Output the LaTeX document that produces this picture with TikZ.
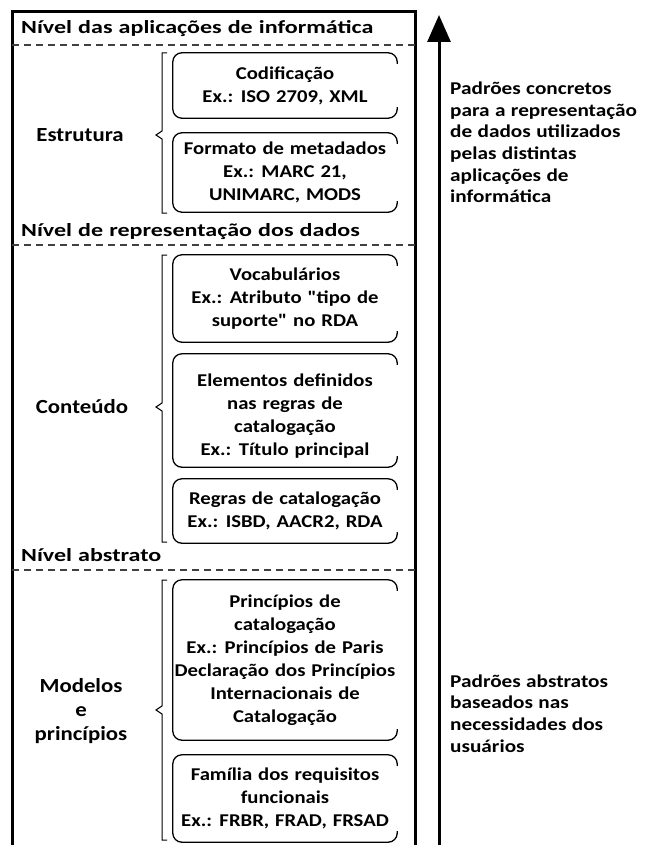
\documentclass[tikz,border=0pt]{standalone}
\usepackage{fontspec}
\setmainfont{Carlito}
\newfontfamily\lvlfont{Carlito}[FakeStretch=1.3]
\newfontfamily\catfont{Carlito}[FakeStretch=1.14]
\newfontfamily\boxfont{Carlito}[FakeStretch=1.15]
\newfontfamily\sidefont{Carlito}[FakeStretch=1.18]
\newcommand\wsp[1]{\spaceskip #1\relax}
\usetikzlibrary{arrows.meta}
\tikzset{
  frame/.style={line width=3pt},
  sep/.style={line width=1.3pt, dash pattern=on 7pt off 5pt, black!75},
  lvl/.style={anchor=west, inner sep=0pt, font=\lvlfont\bfseries\fontsize{18.5}{22}\selectfont\wsp{0.33em}},
  cat/.style={align=center, inner sep=0pt, font=\catfont\bfseries\fontsize{20}{24}\selectfont},
  boxtext/.style={align=center, inner sep=0pt, minimum width=224pt, font=\boxfont\bfseries\fontsize{18}{23}\selectfont\wsp{0.33em}},
  side/.style={anchor=west, align=left, inner sep=0pt, font=\sidefont\bfseries\fontsize{18}{21.7}\selectfont\wsp{0.3em}},
  openline/.style={line width=1.3pt, rounded corners=9pt},
  bracket/.style={line width=1pt},
}
\newcommand\openbox[1]{\draw[openline] ([yshift=-11pt]#1.north east) -- (#1.north east) -- (#1.north west) -- (#1.south west) -- (#1.south east) -- ([yshift=11pt]#1.south east);}
\begin{document}
\begin{tikzpicture}[x=1pt,y=-1pt]
\useasboundingbox (0,0) rectangle (645,845);
% frame
\draw[frame] (12,845) -- (12,12) -- (415,12) -- (415,845);
% arrow
\coordinate (abot) at (439,845);
\coordinate (atop) at (439,15);
\draw[line width=3pt, -{Triangle[width=23pt,length=27pt]}] (abot) -- (atop);
% separators
\draw[sep] (12,45) -- (415,45);
\draw[sep] (12,245) -- (415,245);
\draw[sep] (12,570) -- (415,570);
% level labels
\node[lvl] (l1) at (21,29) {Nível das aplicações de informática};
\node[lvl] (l2) at (21,232) {Nível de representação dos dados};
\node[lvl] (l3) at (21,555) {Nível abstrato};
% boxes
\node[boxtext, minimum height=65pt] (b1) at (285,85.5) {Codificação\\Ex.: ISO 2709, XML};
\node[boxtext, minimum height=79pt] (b2) at (285,172.5) {Formato de metadados\\Ex.: MARC 21,\\UNIMARC, MODS};
\node[boxtext, minimum height=87pt] (b3) at (285,298.5) {Vocabulários\\Ex.: Atributo {\char34}tipo de\\suporte{\char34} no RDA};
\node[boxtext, minimum height=113pt] (b4) at (285,410.5) {};
\node[boxtext] (t4) at (285,416) {Elementos definidos\\nas regras de\\catalogação\\Ex.: Título principal};
\node[boxtext, minimum height=64pt] (b5) at (285,511) {Regras de catalogação\\Ex.: ISBD, AACR2, RDA};
\node[boxtext, minimum height=160pt] (b6) at (285,660) {Princípios de\\catalogação\\Ex.: Princípios de Paris\\Declaração dos Princípios\\Internacionais de\\Catalogação};
\node[boxtext, minimum height=87pt] (b7) at (285,798.5) {Família dos requisitos\\funcionais\\Ex.: FRBR, FRAD, FRSAD};
\foreach \b in {b1,b2,b3,b4,b5,b6,b7} {\openbox{\b}}
% brackets
\draw[bracket] (167,53) -- (162,53) -- (162,131) -- (156,135) -- (162,139) -- (162,213) -- (167,213);
\draw[bracket] (167,255) -- (162,255) -- (162,403) -- (156,407) -- (162,411) -- (162,542) -- (167,542);
\draw[bracket] (167,580) -- (162,580) -- (162,706) -- (156,710) -- (162,714) -- (162,840) -- (167,840);
% category labels
\node[cat] (c1) at (80,135) {Estrutura};
\node[cat] (c2) at (82,407) {Conteúdo};
\node[cat] (c3) at (81,711) {Modelos\\e\\princípios};
% side texts
\node[side] (s1) at (450,142.5) {Padrões concretos\\para a representação\\de dados utilizados\\pelas distintas\\aplicações de\\informática};
\node[side] (s2) at (450,713.5) {Padrões abstratos\\baseados nas\\necessidades dos\\usuários};
\end{tikzpicture}
\end{document}
